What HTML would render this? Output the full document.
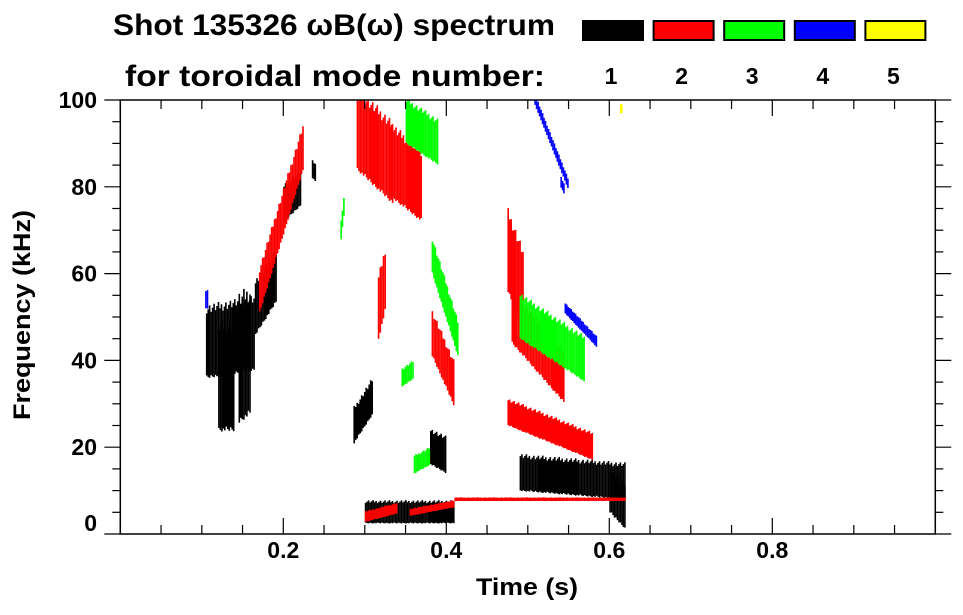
<!DOCTYPE html>
<html><head><meta charset="utf-8"><style>
body{margin:0;background:#fff;width:963px;height:615px;overflow:hidden}
svg{display:block;font-family:"Liberation Sans",Arial,sans-serif;font-weight:bold}
</style></head><body>
<svg id="chart" width="963" height="615" viewBox="0 0 963 615">
<text x="113" y="35" font-size="30" textLength="442" lengthAdjust="spacingAndGlyphs">Shot 135326 ωB(ω) spectrum</text>
<text x="125" y="86" font-size="30" textLength="420" lengthAdjust="spacingAndGlyphs">for toroidal mode number:</text>
<g id="legend"></g>
<g id="marks"></g>
<g id="axes"></g>
<text x="527" y="595" font-size="24" text-anchor="middle" textLength="102" lengthAdjust="spacingAndGlyphs">Time (s)</text>
<text transform="translate(30,315) rotate(-90)" font-size="24" text-anchor="middle" textLength="210" lengthAdjust="spacingAndGlyphs">Frequency (kHz)</text>
</svg>
<script>
// mode colors / legend
const modeNumbers=[1,2,3,4,5];
const modeColors=["#000000","#ff0000","#00ff00","#0000ff","#ffff00"];
// x and y ticks
const xTickLabels=[0.2,0.4,0.6,0.8];
const yTickLabels=[0,20,40,60,80,100];
// spectral ridges: mode, start time, end time, center freq at start, center freq at end, half width (kHz)
const ridgeMode=[1,1,1,1,1,1,1,1,1,1,1, 2,2,2,2,2,2,2,2,2,2,2, 3,3,3,3,3,3, 4,4,4,4, 5];
const ridgeT0 =[0.105,0.12,0.165,0.20,0.235,0.286,0.30,0.38,0.49,0.60,0.145, 0.17,0.29,0.33,0.316,0.382,0.475,0.48,0.475,0.41,0.355,0.30, 0.382,0.35,0.49,0.36,0.345,0.27, 0.508,0.545,0.104,0.54, 0.613];
const ridgeT1 =[0.165,0.14,0.192,0.222,0.24,0.31,0.41,0.40,0.62,0.62,0.16, 0.225,0.335,0.37,0.326,0.41,0.495,0.545,0.58,0.62,0.41,0.34, 0.415,0.39,0.57,0.38,0.36,0.275, 0.55,0.585,0.108,0.545, 0.616];
const ridgeF0 =[44,36,52,76,84,25,5,20,14,10,40, 56,93,86,52,46,65,50,28,8,5,4, 64,95,50,16,36,70, 100,52,54,81, 98];
const ridgeF1 =[46,36,60,80,83,32,5,18,12,6,42, 90,85,80,60,34,55,36,20,8,7,6, 44,90,40,18,38,78, 80,44,54,79, 98];
const ridgeHW =[8,12,6,4,2,4,2.5,4,4,5,14, 5,9,8,7,5,9,6,3,0.4,0.8,1.2, 4,5,5,2,2,2, 1.2,1.2,2,1.2, 1];

const X0=120.3,XS=815,Y0=534,YS=4.34;
const xPos=t=>X0+t*XS, yPos=f=>Y0-f*YS;
const NS="http://www.w3.org/2000/svg";
function mk(tag,attrs,parent){const e=document.createElementNS(NS,tag);for(const k in attrs)e.setAttribute(k,attrs[k]);parent.appendChild(e);return e;}

const marks=document.getElementById('marks');
for(let i=0;i<ridgeMode.length;i++){
  const col=modeColors[ridgeMode[i]-1];
  const g=mk('g',{},marks);
  
  
  const x0=xPos(ridgeT0[i]),x1=xPos(ridgeT1[i]);
  const n=Math.max(2,Math.round((x1-x0)/1.5));
  for(let k=0;k<n;k++){
    const u=k/n, t=ridgeT0[i]+(ridgeT1[i]-ridgeT0[i])*u;
    const fc=ridgeF0[i]+(ridgeF1[i]-ridgeF0[i])*u;
    const j=((k*37+i*13)%11)/11; // texture jitter
    const hw=ridgeHW[i]*(0.85+0.3*j);
    const top=Math.min(100,fc+hw), bot=Math.max(0.5,fc-hw*(0.9+0.2*(1-j)));
    if(top<=bot) continue;
    const r=mk('rect',{x:xPos(t).toFixed(1),y:yPos(top).toFixed(1),width:1.6,height:((top-bot)*YS).toFixed(1),fill:col},g);
    
    
  }
}

// axes
const axes=document.getElementById('axes');
const L=xPos(0),R=xPos(1),T=yPos(100),B=yPos(0);
const frame=mk('rect',{x:L,y:T,width:R-L,height:B-T,fill:"none",stroke:"#000","stroke-width":1.5},axes);


for(let i=0;i<=20;i++){
  const x=xPos(i*0.05), major=i%4===0, len=major?16:9;
  mk('line',{x1:x,x2:x,y1:B,y2:B-len,stroke:"#000","stroke-width":1.2},axes);
  mk('line',{x1:x,x2:x,y1:T,y2:T+len,stroke:"#000","stroke-width":1.2},axes);
}
for(let i=0;i<=20;i++){
  const y=yPos(i*5), major=i%4===0, len=major?16:8;
  mk('line',{x1:L,x2:L-len,y1:y,y2:y,stroke:"#000","stroke-width":1.2},axes);
  mk('line',{x1:R,x2:R+len,y1:y,y2:y,stroke:"#000","stroke-width":1.2},axes);
}
xTickLabels.forEach(v=>{
  const t=mk('text',{x:xPos(v),y:558,"font-size":23,"text-anchor":"middle"},axes);
  t.textContent=v.toFixed(1);
  
  
});
yTickLabels.forEach(v=>{
  const y=v===0?yPos(v)-3:yPos(v)+8;
  const t=mk('text',{x:97,y:y,"font-size":23,"text-anchor":"end"},axes);
  t.textContent=v;
  
  
});

// legend
const leg=document.getElementById('legend');
modeNumbers.forEach((m,i)=>{
  const x=582+i*70.6;
  const r=mk('rect',{x:x+1,y:21,width:60,height:19,fill:modeColors[i],stroke:"#000","stroke-width":2},leg);
  
  
  const t=mk('text',{x:x+29,y:84,"font-size":23,"text-anchor":"middle"},leg);
  t.textContent=m;
  
  
});
</script>
</body></html>
